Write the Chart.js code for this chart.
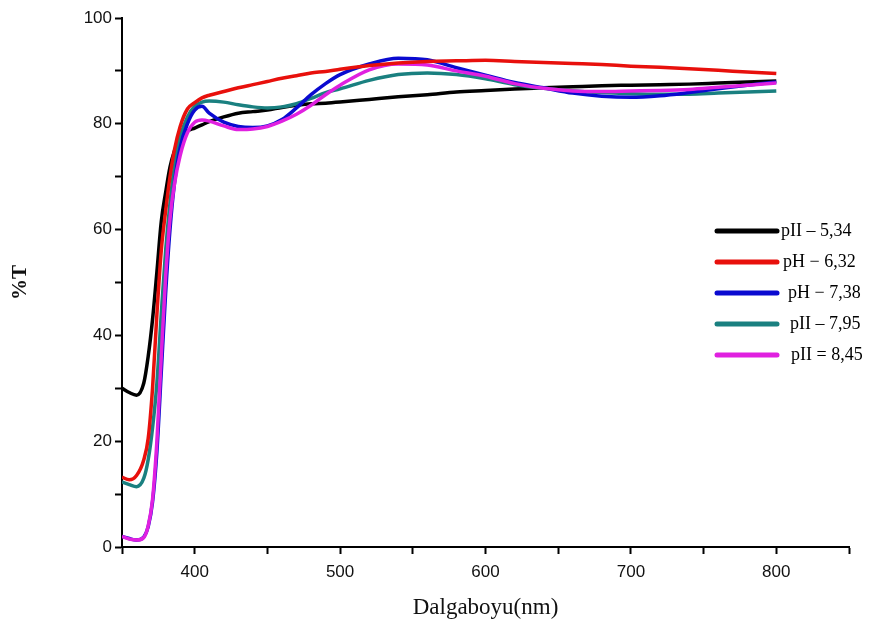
<!DOCTYPE html>
<html>
<head>
<meta charset="utf-8">
<script src="https://cdn.jsdelivr.net/npm/chart.js@4.4.0/dist/chart.umd.min.js"></script>
<style>
  html, body { margin: 0; padding: 0; background: #fff; }
  #wrap { width: 888px; height: 639px; }
</style>
</head>
<body>
<div id="wrap"><canvas id="myChart" width="888" height="639"></canvas></div>
<script>
// wavelength (nm) and %T readings for each pH
const wavelength = [350, 355, 360, 365, 368, 371, 374, 377, 380, 383,
  386, 390, 395, 400, 405, 410, 420, 430, 440, 450,
  460, 470, 480, 490, 500, 520, 540, 560, 580, 600,
  620, 640, 660, 680, 700, 720, 740, 760, 780, 800];

const ph534 = [30.0, 29.2, 28.7, 31.0, 36.0, 43.0, 52.0, 61.5, 67.0, 71.8,
  74.8, 77.2, 78.6, 79.2, 79.8, 80.4, 81.3, 82.0, 82.3, 82.6,
  83.1, 83.5, 83.8, 83.9, 84.1, 84.6, 85.1, 85.5, 86.0, 86.3,
  86.6, 86.8, 87.0, 87.2, 87.3, 87.4, 87.5, 87.7, 87.9, 88.1];

const ph632 = [13.2, 12.7, 13.5, 16.5, 20.5, 30.0, 44.0, 56.0, 63.5, 70.0,
  75.0, 79.5, 82.8, 84.0, 84.9, 85.4, 86.1, 86.8, 87.4, 88.0,
  88.6, 89.1, 89.6, 89.9, 90.3, 91.0, 91.5, 91.8, 91.9, 92.0,
  91.8, 91.6, 91.4, 91.2, 90.9, 90.7, 90.4, 90.1, 89.8, 89.5];

const ph738 = [2.0, 1.6, 1.3, 1.9, 3.8, 8.5, 18.0, 33.0, 48.0, 60.0,
  68.5, 75.5, 80.0, 82.6, 83.3, 82.0, 80.3, 79.5, 79.3, 79.6,
  80.8, 83.0, 85.5, 87.6, 89.3, 91.3, 92.4, 92.1, 90.6, 89.2,
  87.8, 86.8, 85.8, 85.2, 85.0, 85.3, 85.9, 86.6, 87.3, 87.9];

const ph795 = [12.3, 11.8, 11.4, 13.0, 16.5, 22.5, 31.0, 44.0, 56.0, 65.0,
  71.8, 77.5, 81.3, 83.3, 84.1, 84.3, 84.1, 83.6, 83.2, 83.0,
  83.2, 83.8, 84.8, 85.9, 86.6, 88.2, 89.3, 89.6, 89.3, 88.5,
  87.4, 86.7, 86.2, 85.9, 85.7, 85.6, 85.6, 85.8, 86.0, 86.2];

const ph845 = [2.0, 1.5, 1.3, 1.8, 4.0, 9.0, 20.0, 36.0, 51.0, 62.0,
  68.5, 74.0, 78.3, 80.3, 80.7, 80.5, 79.6, 78.9, 79.0, 79.5,
  80.5, 81.8, 83.5, 85.5, 87.3, 90.2, 91.3, 91.1, 90.0, 89.0,
  87.6, 86.7, 86.2, 86.1, 86.2, 86.3, 86.5, 86.9, 87.3, 87.7];

const seriesNames = ["pII \u2013 5,34", "pH \u2212 6,32", "pH \u2212 7,38", "pII \u2013 7,95", "pII = 8,45"];
const seriesColors = ["#000000", "#e8100c", "#0a0ad0", "#1a8080", "#e020e0"];
const seriesData = [ph534, ph632, ph738, ph795, ph845];
const drawOrder = [4, 0, 2, 3, 1];

const datasets = seriesData.map((vals, i) => ({
  label: seriesNames[i],
  data: vals.map((v, j) => ({ x: wavelength[j], y: v })),
  borderColor: seriesColors[i],
  backgroundColor: seriesColors[i],
  borderWidth: 3.5,
  pointRadius: 0,
  cubicInterpolationMode: "monotone",
  order: drawOrder[i],
}));

// legend drawn by hand in the right side of the plot
const legendPlugin = {
  id: "sideLegend",
  afterDraw(chart) {
    const ctx = chart.ctx;
    ctx.save();
    ctx.font = "18px 'Liberation Serif', 'Times New Roman', serif";
    ctx.textBaseline = "middle";
    ctx.textAlign = "left";
    const textX = [781, 783, 788, 790, 791];
    chart.data.datasets.forEach((ds, i) => {
      const y = 231 + i * 31;
      ctx.strokeStyle = ds.borderColor;
      ctx.lineWidth = 5;
      ctx.lineCap = "round";
      ctx.beginPath();
      ctx.moveTo(717, y);
      ctx.lineTo(777, y);
      ctx.stroke();
      ctx.fillStyle = "#000";
      ctx.fillText(ds.label, textX[i], y);
    });
    ctx.restore();
  },
};

const tickFont = { family: "'Liberation Sans', Arial, sans-serif", size: 17 };

const config = {
  type: "line",
  data: { datasets: datasets },
  options: {
    responsive: false,
    animation: false,
    layout: { padding: { top: 18, right: 39, left: 0, bottom: 0 } },
    plugins: { legend: { display: false }, tooltip: { enabled: false } },
    scales: {
      x: {
        type: "linear",
        min: 350,
        max: 850,
        border: { color: "#000", width: 2 },
        grid: { drawOnChartArea: false, drawTicks: true, tickLength: 7, tickWidth: 2, tickColor: "#000" },
        ticks: {
          stepSize: 50,
          color: "#111",
          font: tickFont,
          padding: 8,
          maxRotation: 0,
          autoSkip: false,
          callback: (v) => (v % 100 === 0 ? v : ""),
        },
        title: {
          display: true,
          text: "Dalgaboyu(nm)",
          color: "#111",
          font: { family: "'Liberation Serif', 'Times New Roman', serif", size: 23 },
          padding: { top: 0, bottom: 17 },
        },
        afterFit: (scale) => { scale.height = 92; },
      },
      y: {
        min: 0,
        max: 100,
        border: { color: "#000", width: 2 },
        grid: { drawOnChartArea: false, drawTicks: true, tickLength: 7, tickWidth: 2, tickColor: "#000" },
        ticks: {
          stepSize: 10,
          color: "#111",
          font: tickFont,
          padding: 3,
          autoSkip: false,
          callback: (v) => (v % 20 === 0 ? v : ""),
        },
        title: {
          display: true,
          text: "%T",
          color: "#111",
          font: { family: "'Liberation Serif', 'Times New Roman', serif", size: 21, weight: "bold" },
          padding: { top: 8, bottom: 0 },
        },
        afterFit: (scale) => { scale.width = 122; },
      },
    },
  },
  plugins: [legendPlugin],
};

const myChart = new Chart(document.getElementById("myChart"), config);
</script>
</body>
</html>
